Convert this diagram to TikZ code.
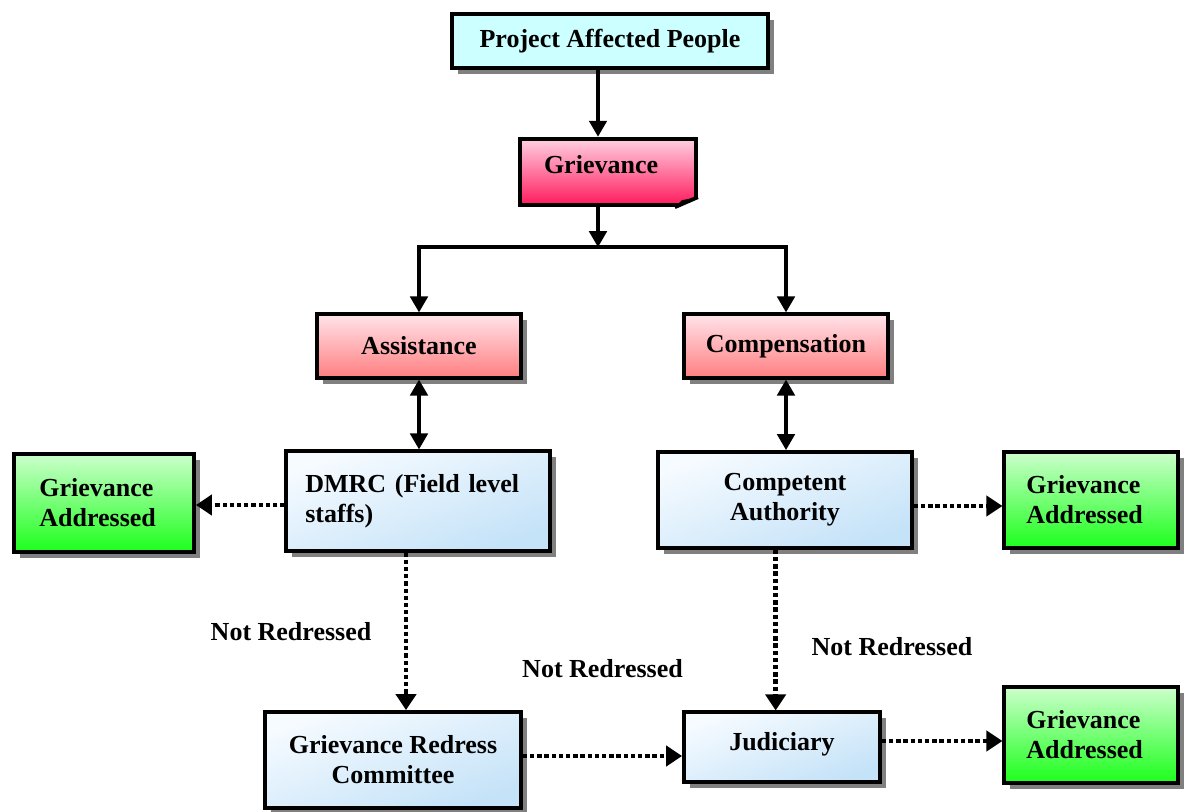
\documentclass[tikz,border=0pt]{standalone}
\usepackage{fontspec}
\setmainfont{Liberation Serif}
\usetikzlibrary{arrows.meta, positioning, shadows, calc}

\definecolor{shadowgray}{HTML}{808080}
\definecolor{papcyan}{HTML}{CCFFFF}
\definecolor{grievtop}{HTML}{FFD0E2}
\definecolor{grievbot}{HTML}{FF1A5C}
\definecolor{pinktop}{HTML}{FFE4EA}
\definecolor{pinkbot}{HTML}{FF7E80}
\definecolor{bluetop}{HTML}{F6FBFF}
\definecolor{bluebot}{HTML}{C4E2F8}
\definecolor{greentop}{HTML}{CCFFCC}
\definecolor{greenbot}{HTML}{1CFF1C}

\begin{document}
\begin{tikzpicture}[
    x=0.75pt, y=-0.75pt,
    box/.style={draw, line width=2.8pt, align=center, font=\bfseries\fontsize{19.5}{22.5}\selectfont,
        drop shadow={shadow xshift=4.5pt, shadow yshift=-4.5pt, fill=shadowgray, opacity=1}},
    cyanbox/.style={box, fill=papcyan},
    pinkbox/.style={box, top color=pinktop, bottom color=pinkbot},
    bluebox/.style={box, top color=bluetop, bottom color=bluebot, shading angle=20},
    greenbox/.style={box, top color=greentop, bottom color=greenbot, text width=97pt, align=left},
    arr/.style={-{Triangle[length=12pt, width=13pt]}, line width=2.8pt},
    dblarr/.style={{Triangle[length=12pt, width=13pt]}-{Triangle[length=12pt, width=13pt]}, line width=2.8pt},
    dotarr/.style={-{Triangle[length=12pt, width=15pt]}, line width=3.4pt, dash pattern=on 3.2pt off 2.2pt},
    lbl/.style={font=\bfseries\fontsize{19.5}{22.5}\selectfont}
]
    \useasboundingbox (0,0) rectangle (1188,812);

    % top of the chart
    \node[cyanbox, minimum width=237pt, minimum height=41pt] (pap) at (610,41) {Project Affected People};
    \node[draw, line width=2.8pt, top color=grievtop, bottom color=grievbot, minimum width=132pt, minimum height=50pt,
          font=\bfseries\fontsize{19.5}{22.5}\selectfont, text depth=12pt, text width=96pt, align=left] (griev) at (608,172) {Grievance};
    % folded corner
    \fill[white] ($(griev.south east)+(4,4)$) -- ($(griev.south east)+(4,-12)$) -- ($(griev.south east)+(-26,4)$) -- cycle;
    \draw[line width=2.8pt, line join=round] ($(griev.south east)+(0,-10)$) -- ($(griev.south east)+(-23,0)$);
    \fill ($(griev.south east)+(0,-10)$) -- ($(griev.south east)+(-23,0)$) -- ($(griev.south east)+(-16,-7)$) -- cycle;
    \coordinate[below=30pt of griev.south] (split);

    \node[pinkbox, minimum width=153pt, minimum height=47.5pt] (assist) at (419,346) {Assistance};
    \node[pinkbox, minimum width=153pt, minimum height=47.5pt] (comp) at (786,346) {Compensation};

    % middle row
    \node[bluebox, minimum width=197.5pt, minimum height=74.5pt, text width=169pt, align=left] (dmrc) at (418,501) {DMRC (Field level\\staffs)};
    \node[bluebox, minimum width=190.5pt, minimum height=72pt] (auth) at (785,500) {Competent\\Authority};
    \node[greenbox, minimum width=135pt, minimum height=73.5pt] (gaL) at (104,503) {Grievance\\Addressed};
    \node[greenbox, minimum width=130pt, minimum height=72pt] (gaR) at (1091,500) {Grievance\\Addressed};

    % bottom row
    \node[bluebox, minimum width=192pt, minimum height=72pt] (grc) at (393,760) {Grievance Redress\\Committee};
    \node[bluebox, minimum width=147pt, minimum height=52pt, text depth=8pt] (jud) at (782,747) {Judiciary};
    \node[greenbox, minimum width=130pt, minimum height=71.5pt] (gaB) at (1091,735) {Grievance\\Addressed};

    % solid connectors
    \draw[arr] ([xshift=-7.5pt]pap.south -| griev.north) -- ([xshift=-7.5pt]griev.north);
    \draw[arr] ([xshift=-7.5pt]griev.south) -- ([xshift=-7.5pt]split);
    \draw[arr, line join=miter] ([xshift=-7.5pt]split) -| (assist.north);
    \draw[arr, line join=miter] ([xshift=-7.5pt]split) -| (comp.north);
    \draw[dblarr] (assist.south) -- (assist.south |- dmrc.north);
    \draw[dblarr] (comp.south) -- (comp.south |- auth.north);

    % dotted connectors
    \draw[dotarr] ([yshift=-3pt]dmrc.west) -- ([yshift=-3pt]dmrc.west -| gaL.east);
    \draw[dotarr] ([yshift=-4.5pt]auth.east) -- ([yshift=-4.5pt]auth.east -| gaR.west);
    \draw[dotarr] ([xshift=-9pt]dmrc.south) -- ([xshift=-9pt]dmrc.south |- grc.north)
        node[midway, left=21pt, lbl] (nr1) {Not Redressed};
    \draw[dotarr] ([xshift=-7pt]auth.south) -- ([xshift=-7pt]auth.south |- jud.north)
        node[pos=0.6, right=22pt, lbl] (nr3) {Not Redressed};
    \draw[dotarr] ([yshift=-6.75pt]jud.west -| grc.east) -- ([yshift=-6.75pt]jud.west)
        node[midway, above=54pt, lbl] (nr2) {Not Redressed};
    \draw[dotarr] ([yshift=4.5pt]jud.east) -- ([yshift=4.5pt]jud.east -| gaB.west);
\end{tikzpicture}
\end{document}
